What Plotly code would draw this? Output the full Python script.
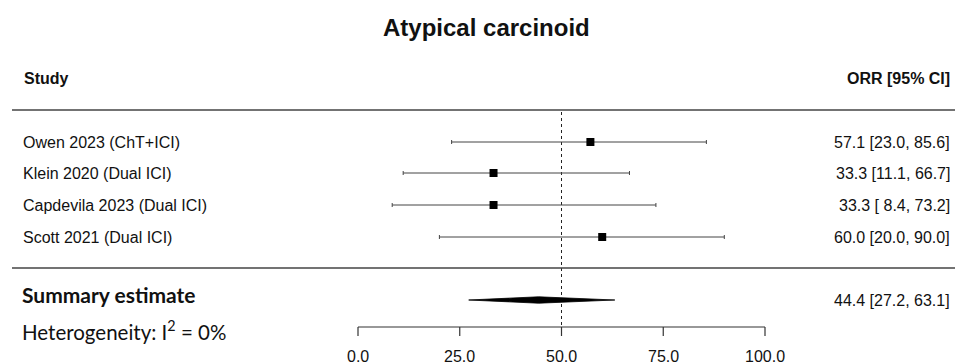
import plotly.graph_objects as go

# ---- data ----
studies = ["Owen 2023 (ChT+ICI)", "Klein 2020 (Dual ICI)", "Capdevila 2023 (Dual ICI)", "Scott 2021 (Dual ICI)"]
orr = [57.1, 33.3, 33.3, 60.0]
ci_low = [23.0, 11.1, 8.4, 20.0]
ci_high = [85.6, 66.7, 73.2, 90.0]
ci_text = ["57.1 [23.0, 85.6]", "33.3 [11.1, 66.7]", "33.3 [ 8.4, 73.2]", "60.0 [20.0, 90.0]"]
summary_est = 44.4
summary_low = 27.2
summary_high = 63.1
summary_text = "44.4 [27.2, 63.1]"
tick_vals = [0, 25, 50, 75, 100]
tick_labels = ["0.0", "25.0", "50.0", "75.0", "100.0"]
ref_value = 50

# ---- layout geometry (pixels) ----
W, H = 955, 364
X0_PX, SCALE = 358.0, 4.07  # pixel of x=0, px per unit
xr = [-X0_PX / SCALE, (W - X0_PX) / SCALE]
row_y = [142, 173, 205, 237]
sum_y = 300
axis_y = 327
FONT = "Liberation Sans, Arial, sans-serif"
CAL = "Lato, Open Sans, sans-serif"

def px2x(p):
    return (p - X0_PX) / SCALE

fig = go.Figure()

# reference dotted line
fig.add_trace(go.Scatter(x=[ref_value, ref_value], y=[112, axis_y], mode="lines",
                         line=dict(color="#222", width=1, dash="dot"), hoverinfo="skip"))

# header & footer rules
for yy in [110, 268]:
    fig.add_trace(go.Scatter(x=[px2x(12), px2x(955)], y=[yy, yy], mode="lines",
                             line=dict(color="#444", width=1.5), hoverinfo="skip"))

# study CIs and points
fig.add_trace(go.Scatter(
    x=orr, y=row_y, mode="markers",
    marker=dict(symbol="square", size=8, color="black"),
    error_x=dict(type="data", symmetric=False,
                 array=[h - o for h, o in zip(ci_high, orr)],
                 arrayminus=[o - l for o, l in zip(orr, ci_low)],
                 color="#444", thickness=1, width=2),
    hoverinfo="skip"))

# summary diamond
fig.add_trace(go.Scatter(
    x=[summary_low, summary_est, summary_high, summary_est, summary_low],
    y=[sum_y, sum_y - 3.2, sum_y, sum_y + 3.2, sum_y],
    mode="lines", fill="toself", fillcolor="black",
    line=dict(color="black", width=0.8), hoverinfo="skip"))

# x axis line and ticks
fig.add_trace(go.Scatter(x=[tick_vals[0], tick_vals[-1]], y=[axis_y, axis_y], mode="lines",
                         line=dict(color="#333", width=1.2), hoverinfo="skip"))
for t in tick_vals:
    fig.add_trace(go.Scatter(x=[t, t], y=[axis_y, axis_y + 9], mode="lines",
                             line=dict(color="#333", width=1.2), hoverinfo="skip"))

ann = []
for t, lab in zip(tick_vals, tick_labels):
    ann.append(dict(x=t, y=356, xref="x", yref="y", text=lab, showarrow=False,
                    font=dict(family=FONT, size=16, color="#111"), xanchor="center", yanchor="middle"))

ann.append(dict(x=486 / W, y=27, xref="paper", yref="y", text="<b>Atypical carcinoid</b>", showarrow=False,
                font=dict(family=FONT, size=24, color="#111"), xanchor="center", yanchor="middle"))
ann.append(dict(x=22 / W, y=78, xref="paper", yref="y", text="<b>Study</b>", showarrow=False,
                font=dict(family=FONT, size=16, color="#111"), xanchor="left", yanchor="middle"))
ann.append(dict(x=952 / W, y=78, xref="paper", yref="y", text="<b>ORR [95% CI]</b>", showarrow=False,
                font=dict(family=FONT, size=16, color="#111"), xanchor="right", yanchor="middle"))

for s, yy, ct in zip(studies, row_y, ci_text):
    ann.append(dict(x=21 / W, y=yy, xref="paper", yref="y", text=s, showarrow=False,
                    font=dict(family=FONT, size=16, color="#111"), xanchor="left", yanchor="middle"))
    ann.append(dict(x=952 / W, y=yy, xref="paper", yref="y", text=ct, showarrow=False,
                    font=dict(family=FONT, size=16, color="#111"), xanchor="right", yanchor="middle"))

ann.append(dict(x=952 / W, y=sum_y, xref="paper", yref="y", text=summary_text, showarrow=False,
                font=dict(family=FONT, size=16, color="#111"), xanchor="right", yanchor="middle"))
ann.append(dict(x=20 / W, y=294, xref="paper", yref="y", text="<b>Summary estimate</b>", showarrow=False,
                font=dict(family=CAL, size=21, color="#111"), xanchor="left", yanchor="middle"))
ann.append(dict(x=20 / W, y=330, xref="paper", yref="y", text="Heterogeneity: I<sup>2</sup> = 0%", showarrow=False,
                font=dict(family=CAL, size=20.5, color="#111"), xanchor="left", yanchor="middle"))

fig.update_layout(
    width=W, height=H, autosize=False,
    margin=dict(l=0, r=0, t=0, b=0),
    paper_bgcolor="white", plot_bgcolor="white",
    showlegend=False,
    xaxis=dict(range=xr, visible=False, fixedrange=True),
    yaxis=dict(range=[H, 0], visible=False, fixedrange=True),
    annotations=ann,
)

fig.write_html("out.html", config={"displayModeBar": False},
               post_script="document.body.style.margin='0';document.body.style.overflow='hidden';")
